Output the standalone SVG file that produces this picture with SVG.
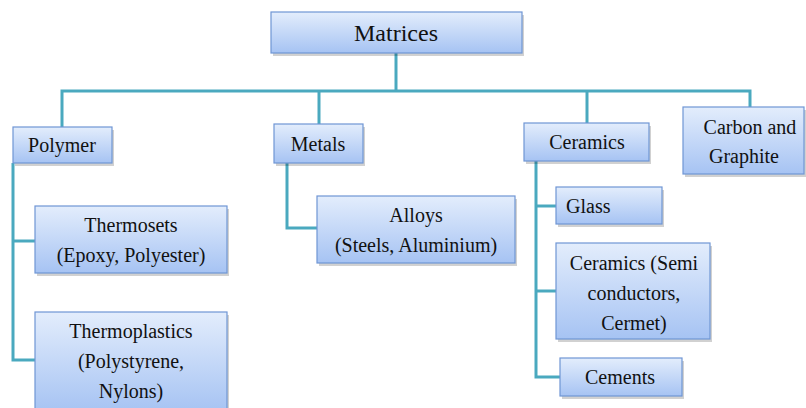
<svg xmlns="http://www.w3.org/2000/svg" width="806" height="408" viewBox="0 0 806 408">
<defs>
<linearGradient id="g" x1="0" y1="0" x2="0" y2="1">
<stop offset="0" stop-color="#e3edfc"/>
<stop offset="1" stop-color="#a6c3f3"/>
</linearGradient>
</defs>
<style>
.box{fill:url(#g);stroke:#6f96d4;stroke-width:1.2}
.sh{fill:#000;fill-opacity:0.18}
.c{fill:none;stroke:#4aa9bf;stroke-width:3}
</style>
<rect width="806" height="408" fill="#fff"/>
<g id="connectors">
<path class="c" d="M396,53 V91"/>
<path class="c" d="M62,127 V91 H750 V107"/>
<path class="c" d="M319,91 V124"/>
<path class="c" d="M587,91 V123"/>
<path class="c" d="M13,163 V360 H35"/>
<path class="c" d="M13,241 H35"/>
<path class="c" d="M287,163 V228 H317"/>
<path class="c" d="M536,161 V377 H560"/>
<path class="c" d="M536,206 H556"/>
<path class="c" d="M536,291 H556"/>
</g>
<g id="matrices">
<rect class="sh" x="273" y="15" width="251" height="41"/>
<rect class="box" x="271" y="12" width="251" height="41"/>
<text font-family="Liberation Serif, serif" font-size="24" text-anchor="middle" fill="#111" x="396" y="41">Matrices</text>
</g>
<g id="polymer">
<rect class="sh" x="15" y="130" width="99" height="36"/>
<rect class="box" x="13" y="127" width="99" height="36"/>
<text font-family="Liberation Serif, serif" font-size="20" text-anchor="middle" fill="#111" x="62" y="152">Polymer</text>
</g>
<g id="thermosets">
<rect class="sh" x="37" y="209" width="192" height="67"/>
<rect class="box" x="35" y="206" width="192" height="67"/>
<text font-family="Liberation Serif, serif" font-size="20" text-anchor="middle" fill="#111" x="131" y="232">Thermosets</text>
<text font-family="Liberation Serif, serif" font-size="20" text-anchor="middle" fill="#111" x="131" y="262">(Epoxy, Polyester)</text>
</g>
<g id="thermoplastics">
<rect class="sh" x="37" y="315" width="192" height="100"/>
<rect class="box" x="35" y="312" width="192" height="100"/>
<text font-family="Liberation Serif, serif" font-size="20" text-anchor="middle" fill="#111" x="131" y="338">Thermoplastics</text>
<text font-family="Liberation Serif, serif" font-size="20" text-anchor="middle" fill="#111" x="131" y="368">(Polystyrene,</text>
<text font-family="Liberation Serif, serif" font-size="20" text-anchor="middle" fill="#111" x="131" y="398">Nylons)</text>
</g>
<g id="metals">
<rect class="sh" x="276" y="127" width="89" height="39"/>
<rect class="box" x="274" y="124" width="89" height="39"/>
<text font-family="Liberation Serif, serif" font-size="20" text-anchor="middle" fill="#111" x="318" y="151">Metals</text>
</g>
<g id="alloys">
<rect class="sh" x="319" y="199" width="198" height="67"/>
<rect class="box" x="317" y="196" width="198" height="67"/>
<text font-family="Liberation Serif, serif" font-size="20" text-anchor="middle" fill="#111" x="416" y="222">Alloys</text>
<text font-family="Liberation Serif, serif" font-size="20" text-anchor="middle" fill="#111" x="416" y="252">(Steels, Aluminium)</text>
</g>
<g id="ceramics">
<rect class="sh" x="526" y="126" width="125" height="38"/>
<rect class="box" x="524" y="123" width="125" height="38"/>
<text font-family="Liberation Serif, serif" font-size="20" text-anchor="middle" fill="#111" x="587" y="149">Ceramics</text>
</g>
<g id="carbon">
<rect class="sh" x="685" y="110" width="121" height="67"/>
<rect class="box" x="683" y="107" width="121" height="67"/>
<text font-family="Liberation Serif, serif" font-size="20" text-anchor="middle" fill="#111" x="750" y="134">Carbon and</text>
<text font-family="Liberation Serif, serif" font-size="20" text-anchor="middle" fill="#111" x="744" y="163">Graphite</text>
</g>
<g id="glass">
<rect class="sh" x="558" y="190" width="106" height="37"/>
<rect class="box" x="556" y="187" width="106" height="37"/>
<text font-family="Liberation Serif, serif" font-size="20" text-anchor="start" fill="#111" x="566" y="213">Glass</text>
</g>
<g id="ceramics-semi">
<rect class="sh" x="558" y="246" width="154" height="96"/>
<rect class="box" x="556" y="243" width="154" height="96"/>
<text font-family="Liberation Serif, serif" font-size="20" text-anchor="middle" fill="#111" x="634" y="270">Ceramics (Semi</text>
<text font-family="Liberation Serif, serif" font-size="20" text-anchor="middle" fill="#111" x="634" y="300">conductors,</text>
<text font-family="Liberation Serif, serif" font-size="20" text-anchor="middle" fill="#111" x="634" y="330">Cermet)</text>
</g>
<g id="cements">
<rect class="sh" x="562" y="361" width="122" height="38"/>
<rect class="box" x="560" y="358" width="122" height="38"/>
<text font-family="Liberation Serif, serif" font-size="20" text-anchor="middle" fill="#111" x="620" y="384">Cements</text>
</g>
</svg>
